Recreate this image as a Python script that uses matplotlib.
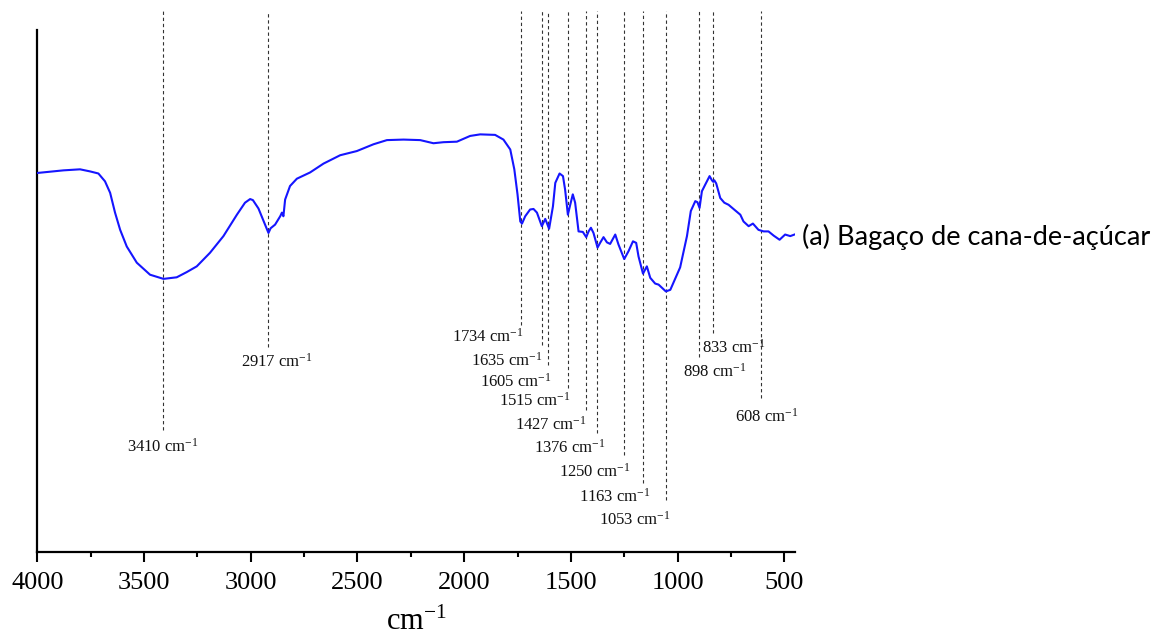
import matplotlib
matplotlib.use("Agg")
import matplotlib.pyplot as plt
from matplotlib.ticker import MultipleLocator

# ---- data ----
wavenumber = [4000, 3878, 3800, 3753, 3714, 3683, 3659, 3636, 3612, 3581, 3534, 3472,
              3409, 3347, 3300, 3253, 3191, 3128, 3065, 3027, 3003, 2990, 2964, 2941,
              2917, 2907, 2886, 2862, 2854, 2847, 2839, 2816, 2784, 2722, 2659, 2581,
              2503, 2425, 2362, 2284, 2206, 2144, 2097, 2034, 1972, 1925, 1855, 1816,
              1784, 1765, 1750, 1737, 1729, 1714, 1691, 1675, 1659, 1636, 1620, 1602,
              1584, 1573, 1553, 1537, 1527, 1514, 1503, 1491, 1480, 1464, 1444, 1428,
              1417, 1406, 1394, 1375, 1363, 1347, 1331, 1316, 1292, 1277, 1250, 1230,
              1209, 1194, 1183, 1162, 1144, 1128, 1105, 1089, 1055, 1034, 988, 956,
              938, 917, 907, 897, 886, 870, 850, 839, 833, 828, 819, 800, 781, 761,
              738, 706, 691, 667, 647, 621, 597, 574, 550, 522, 496, 472, 452]
transmittance = [72.6, 73.1, 73.3, 72.9, 72.5, 71.0, 68.8, 65.0, 61.7, 58.5, 55.4, 53.1,
                 52.3, 52.6, 53.6, 54.7, 57.3, 60.5, 64.6, 66.9, 67.6, 67.4, 65.8, 63.5,
                 61.1, 62.0, 62.7, 64.3, 65.0, 64.3, 67.5, 70.1, 71.5, 72.7, 74.4, 76.0,
                 76.8, 78.1, 78.9, 79.0, 78.9, 78.3, 78.5, 78.6, 79.7, 80.0, 79.9, 79.0,
                 77.1, 73.3, 68.5, 63.3, 62.9, 64.3, 65.6, 65.7, 65.0, 62.4, 63.8, 61.9,
                 66.2, 70.7, 72.5, 72.0, 69.4, 64.6, 66.5, 68.5, 66.9, 61.4, 61.3, 60.3,
                 61.4, 62.1, 61.1, 58.3, 59.2, 60.3, 59.3, 59.0, 60.8, 58.9, 56.1, 57.6,
                 59.5, 59.2, 56.6, 53.3, 54.7, 52.5, 51.4, 51.2, 49.9, 50.2, 54.5, 60.5,
                 65.3, 67.2, 67.0, 65.9, 69.1, 70.4, 72.0, 71.2, 70.9, 71.2, 70.6, 67.8,
                 66.9, 66.5, 65.7, 64.6, 63.3, 62.4, 62.9, 61.7, 61.4, 61.4, 60.6, 59.8,
                 60.8, 60.5, 60.8]

peaks = [3410, 2917, 1734, 1635, 1605, 1515, 1427, 1376, 1250, 1163, 1053, 898, 833, 608]
peak_line_bottom = [23.4, 39.3, 43.5, 39.7, 35.8, 31.4, 27.2, 22.8, 18.6, 13.2, 9.9, 37.4, 42.0, 29.5]
label_x = [3410, 2880, 1723, 1634, 1588, 1503, 1424, 1339, 1222, 1128, 1034, 974, 884, 730]
label_y = [20.1, 36.4, 41.2, 36.6, 32.6, 28.9, 24.3, 19.9, 15.3, 10.5, 6.1, 34.5, 39.1, 25.9]
label_ha = ["center", "center", "right", "right", "right", "right", "right", "right",
            "right", "right", "right", "left", "left", "left"]
line_top = 103.6

sample_label = "(a) Bagaço de cana-de-açúcar"
xticks = [4000, 3500, 3000, 2500, 2000, 1500, 1000, 500]

# ---- figure ----
plt.rcParams["mathtext.fontset"] = "custom"
plt.rcParams["mathtext.rm"] = "Liberation Serif"
plt.rcParams["mathtext.it"] = "Liberation Serif:italic"
serif = "Liberation Serif"
unit = r"cm$^{\mathrm{-1}}$"

fig = plt.figure(figsize=(11.6, 6.39), dpi=100)
ax = fig.add_axes([0.0322, 0.1366, 0.6531, 0.8164])

ax.plot(wavenumber, transmittance, color="#1515ff", lw=1.5, zorder=3)

for p, yb, lx, ly, ha in zip(peaks, peak_line_bottom, label_x, label_y, label_ha):
    ax.plot([p, p], [yb, line_top], color="#333333", lw=0.8,
            linestyle=(0, (3, 2.5)), clip_on=False, zorder=2)
    ax.text(lx, ly, f"{p} " + unit, ha=ha, va="center",
            fontsize=12, family=serif, color="#111111")

ax.text(418, 60.4, sample_label, ha="left", va="center", fontsize=19.5,
        family="Lato", clip_on=False)

ax.set_xlim(4000, 450)
ax.set_ylim(0, 100)
ax.set_xticks(xticks)
ax.xaxis.set_minor_locator(MultipleLocator(250))
ax.set_yticks([])
for lab in ax.get_xticklabels():
    lab.set_family(serif)
    lab.set_fontsize(19)
ax.tick_params(axis="x", which="major", direction="out", length=7.5, width=1.5, pad=7)
ax.tick_params(axis="x", which="minor", direction="out", length=3.8, width=1.5)
ax.spines["top"].set_visible(False)
ax.spines["right"].set_visible(False)
ax.spines["left"].set_linewidth(1.6)
ax.spines["bottom"].set_linewidth(1.6)
ax.set_xlabel(unit, family=serif, fontsize=22, labelpad=10)

fig.savefig("out.png", dpi=100)
